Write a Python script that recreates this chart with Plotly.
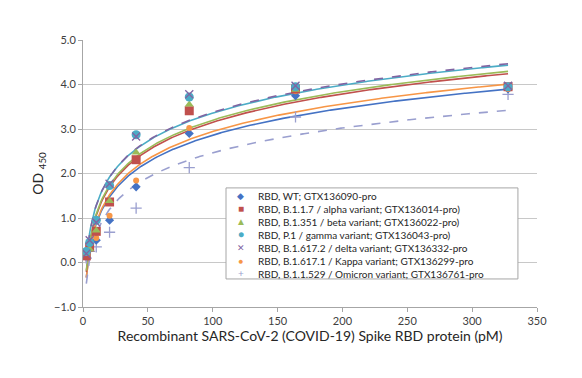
import numpy as np
import plotly.graph_objects as go

# ---- data ----
conc = [2.56, 5.12, 10.24, 20.48, 40.96, 81.92, 163.84, 327.68]

names = [
    "RBD, WT; GTX136090-pro",
    "RBD, B.1.1.7 / alpha variant; GTX136014-pro)",
    "RBD, B.1.351 / beta variant; GTX136022-pro)",
    "RBD, P.1 / gamma variant; GTX136043-pro)",
    "RBD, B.1.617.2 / delta variant; GTX136332-pro",
    "RBD, B.1.617.1 / Kappa variant; GTX136299-pro",
    "RBD, B.1.1.529 / Omicron variant; GTX136761-pro",
]
od_wt      = [0.25, 0.30, 0.50, 0.95, 1.70, 2.90, 3.75, 3.90]
od_alpha   = [0.15, 0.35, 0.70, 1.36, 2.31, 3.41, 3.90, 3.95]
od_beta    = [0.20, 0.30, 0.72, 1.38, 2.47, 3.55, 3.88, 3.95]
od_gamma   = [0.25, 0.45, 0.95, 1.73, 2.87, 3.72, 3.95, 3.95]
od_delta   = [0.20, 0.50, 0.90, 1.77, 2.83, 3.78, 3.97, 3.97]
od_kappa   = [0.15, 0.30, 0.55, 1.05, 1.84, 3.02, 3.85, 3.90]
od_omicron = [0.10, 0.25, 0.35, 0.68, 1.22, 2.13, 3.27, 3.78]

series = [od_wt, od_alpha, od_beta, od_gamma, od_delta, od_kappa, od_omicron]

x_ticks = [0, 50, 100, 150, 200, 250, 300, 350]
y_ticks = [-1, 0, 1, 2, 3, 4, 5]

# ---- styles ----
colors = ["#4472C4", "#C0504D", "#9BBB59", "#4BACC6", "#8064A2", "#F79646", "#9A9FCF"]
symbols = ["diamond", "square", "triangle-up", "circle", "x-thin-open", "circle", "cross-thin-open"]
sizes = [7, 9, 8, 9, 8, 6, 8]
line_dash = ["solid", "solid", "solid", "solid", "dash", "solid", "dash"]
glyphs = ["◆", "■", "▲", "●", "✕", "●", "+"]
glyph_sizes = [9, 10, 10, 10, 9, 8, 10]

FONT = "Lato, Carlito, Calibri, sans-serif"

fig = go.Figure()

# logarithmic trendlines (least squares on ln x)
xs = np.linspace(min(conc), max(conc), 400)
for i in [0, 5, 1, 2, 3, 4, 6]:
    a, b = np.polyfit(np.log(conc), series[i], 1)
    fig.add_trace(go.Scatter(
        x=xs, y=a * np.log(xs) + b, mode="lines",
        line=dict(color=colors[i], width=1.6, dash=line_dash[i]),
        showlegend=False, hoverinfo="skip"))

# data markers
for i in [6, 0, 5, 1, 2, 3, 4]:
    lw = 1.3 if "open" in symbols[i] else 0
    fig.add_trace(go.Scatter(
        x=conc, y=series[i], mode="markers", name=names[i],
        marker=dict(symbol=symbols[i], size=sizes[i], color=colors[i],
                    line=dict(width=lw, color=colors[i])),
        showlegend=False))

# legend box
fig.add_shape(type="rect", xref="paper", yref="paper",
              x0=0.315, x1=0.958, y0=0.105, y1=0.446,
              fillcolor="white", line=dict(color="#A6A6A6", width=1), layer="above")
glyph_text = "<br>".join(
    f"<span style='color:{colors[i]};font-size:{glyph_sizes[i]}px'>{glyphs[i]}</span>"
    for i in range(7))
fig.add_annotation(
    xref="paper", yref="paper", x=0.348, y=0.2715, xanchor="center", yanchor="middle",
    text=glyph_text, showarrow=False, align="center", borderpad=0,
    font=dict(family=FONT, size=10, color="#262626"))
fig.add_annotation(
    xref="paper", yref="paper", x=0.383, y=0.2715, xanchor="left", yanchor="middle",
    text="<br>".join(names), showarrow=False, align="left", borderpad=0,
    font=dict(family=FONT, size=10, color="#262626"))

axis_common = dict(
    showline=True, linecolor="#A6A6A6", linewidth=1,
    ticks="outside", ticklen=4, tickcolor="#A6A6A6",
    tickfont=dict(family=FONT, size=11, color="#404040"),
    zeroline=False,
)

fig.update_xaxes(
    range=[0, 350], tickvals=x_ticks, showgrid=False,
    title=dict(text="Recombinant SARS-CoV-2 (COVID-19) Spike RBD protein (pM)",
               font=dict(family=FONT, size=14, color="#262626"), standoff=4),
    **axis_common)
fig.update_yaxes(
    range=[-1, 5], tickvals=y_ticks, tickformat=".1f",
    showgrid=True, gridcolor="#C8C8C8", gridwidth=1,
    title=dict(text="OD <sub>450</sub>",
               font=dict(family=FONT, size=14, color="#262626"), standoff=7),
    **axis_common)

# page body has an 8px margin; size the figure to fit the window
fig.update_layout(
    width=574, height=370,
    margin=dict(l=75, r=45, t=32, b=71),
    paper_bgcolor="white", plot_bgcolor="white",
    showlegend=False,
)

fig.write_html("out.html")
